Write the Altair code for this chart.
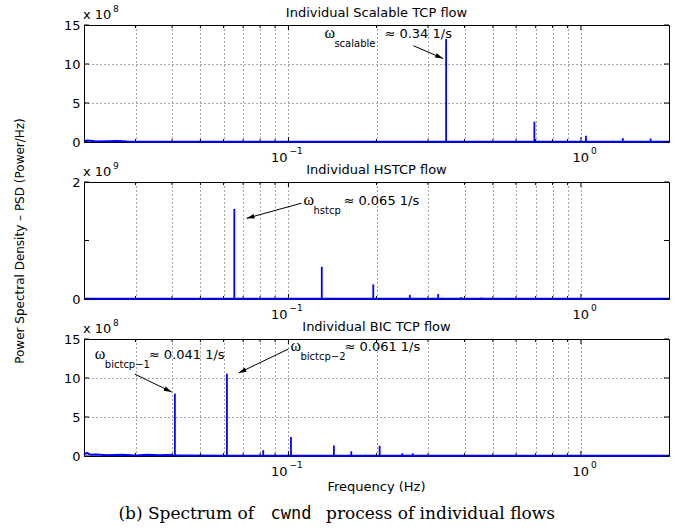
import math
import altair as alt
import pandas as pd

# ---------------- data ----------------
# Panel 1: Individual Scalable TCP flow  (PSD in units of 1e8)
scal_peak_f = [0.346, 0.693, 1.04, 1.39, 1.73]
scal_peak_v = [13.2, 2.6, 0.8, 0.5, 0.45]
scal_base_f = [0.02, 0.0205, 0.021, 0.022, 0.024, 0.026, 0.028, 0.03, 0.05, 0.1, 0.5, 1.0, 2.0]
scal_base_v = [0.1, 0.2, 0.15, 0.05, 0.1, 0.12, 0.05, 0.03, 0.02, 0.02, 0.02, 0.02, 0.02]

# Panel 2: Individual HSTCP flow  (PSD in units of 1e9)
hs_peak_f = [0.0653, 0.130, 0.195, 0.26, 0.325, 0.389, 0.456, 0.52, 0.585, 0.65, 0.78, 0.85]
hs_peak_v = [1.54, 0.55, 0.25, 0.07, 0.085, 0.03, 0.025, 0.02, 0.012, 0.012, 0.01, 0.01]
hs_base_f = [0.02, 0.05, 0.1, 0.5, 2.0]
hs_base_v = [0.005, 0.005, 0.005, 0.005, 0.005]

# Panel 3: Individual BIC TCP flow  (PSD in units of 1e8)
bic_peak_f = [0.0409, 0.0616, 0.082, 0.102, 0.143, 0.164, 0.184, 0.205, 0.245,
              0.266, 0.306, 0.348, 0.41, 0.466, 0.51, 0.61, 0.71]
bic_peak_v = [8.0, 10.55, 0.75, 2.45, 1.35, 0.6, 0.15, 1.3, 0.35,
              0.35, 0.15, 0.12, 0.15, 0.1, 0.1, 0.1, 0.08]
bic_base_f = [0.02, 0.0205, 0.021, 0.022, 0.024, 0.027, 0.03, 0.033, 0.036, 0.039,
              0.04, 0.045, 0.06, 0.1, 0.5, 2.0]
bic_base_v = [0.2, 0.4, 0.15, 0.2, 0.1, 0.15, 0.08, 0.15, 0.1, 0.12,
              0.1, 0.05, 0.03, 0.03, 0.02, 0.02]

titles = ["Individual Scalable TCP flow", "Individual HSTCP flow", "Individual BIC TCP flow"]
y_max = [15, 2, 15]
y_ticks = [[0, 5, 10, 15], [0, 1, 2], [0, 5, 10, 15]]
exponents = ["8", "9", "8"]
x_grid = [0.03, 0.04, 0.05, 0.06, 0.07, 0.08, 0.09,
          0.1, 0.2, 0.3, 0.4, 0.5, 0.6, 0.7, 0.8, 0.9, 1.0]
x_major = [0.1, 1.0]
x_major_exp = ["\u22121", "0"]

# annotations: anchor (freq, value), subscript, remaining text
ann_f = [[0.1327], [0.1125], [0.02178, 0.1016]]
ann_v = [[13.36], [1.603], [12.44, 13.46]]
ann_sub = [["scalable"], ["hstcp"], ["bictcp\u22121", "bictcp\u22122"]]
ann_rest = [["\u2248 0.34 1/s"], ["\u2248 0.065 1/s"], ["\u2248 0.041 1/s", "\u2248 0.061 1/s"]]
ann_rest_dx = [[60], [40], [54, 54]]

# arrows: tail (freq, value) -> head (freq, value)
arr_tail_f = [[0.267], [0.1108], [0.0298, 0.100]]
arr_tail_v = [[12.35], [1.638], [10.51, 13.72]]
arr_head_f = [[0.338], [0.0719], [0.0399, 0.0675]]
arr_head_v = [[10.7], [1.379], [8.2, 10.64]]

# ---------------- layout / style ----------------
W, H = 585, 117
FMIN, FMAX = 0.02, 2.0
SANS = "DejaVu Sans"
BLUE = "#0000ff"
ARROW = "M0,0L-0.3,1L0.3,1Z"

xscale = alt.Scale(type="log", domain=[FMIN, FMAX], nice=False)


def px_x(f):
    return W * (math.log10(f) - math.log10(FMIN)) / (math.log10(FMAX) - math.log10(FMIN))


def px_y(v, ymax):
    return H * (1 - v / ymax)


def one(text):
    return pd.DataFrame({"t": [text]})


def panel(i, peak_f, peak_v, base_f, base_v, bottom=False):
    ymax = y_max[i]
    yscale = alt.Scale(domain=[0, ymax], nice=False, zero=True)
    xaxis = alt.Axis(values=x_grid, labels=False, ticks=False, domain=False,
                     grid=True, gridDash=[1, 3], gridColor="#000", gridOpacity=0.7,
                     title=None)
    ykw = dict(values=y_ticks[i], ticks=False, tickSize=0, domain=False, grid=True,
               gridDash=[1, 3], gridColor="#000", gridOpacity=0.7, labelPadding=4,
               format="d")
    if i == 1:
        yaxis = alt.Axis(title="Power Spectral Density \u2013 PSD (Power/Hz)",
                         titlePadding=45, **ykw)
    else:
        yaxis = alt.Axis(title=None, **ykw)

    def X(field):
        return alt.X(field, type="quantitative", scale=xscale, axis=xaxis)

    def Y(field):
        return alt.Y(field, type="quantitative", scale=yscale, axis=yaxis)

    layers = []
    base = pd.DataFrame({"f": base_f, "v": base_v})
    layers.append(alt.Chart(base).mark_line(color=BLUE, strokeWidth=2).encode(x=X("f"), y=Y("v")))

    peaks = pd.DataFrame({"f": peak_f, "v": peak_v})
    layers.append(alt.Chart(peaks).mark_rule(color=BLUE, strokeWidth=1.8).encode(
        x=X("f"), y=Y("v"), y2=alt.Y2Datum(0)))

    # inward ticks (MATLAB style)
    minors = pd.DataFrame({"f": [g for g in x_grid if g not in x_major]})
    majors = pd.DataFrame({"f": x_major})
    for df, ln in ((minors, 3), (majors, 5)):
        layers.append(alt.Chart(df).mark_rule(color="black", strokeWidth=1).encode(
            x=X("f"), y=alt.value(H), y2=alt.value(H - ln)))
        layers.append(alt.Chart(df).mark_rule(color="black", strokeWidth=1).encode(
            x=X("f"), y=alt.value(0), y2=alt.value(ln)))
    yt = pd.DataFrame({"v": y_ticks[i]})
    layers.append(alt.Chart(yt).mark_rule(color="black").encode(
        y=Y("v"), x=alt.value(0), x2=alt.value(5)))
    layers.append(alt.Chart(yt).mark_rule(color="black").encode(
        y=Y("v"), x=alt.value(W - 5), x2=alt.value(W)))

    # panel title
    layers.append(alt.Chart(one(titles[i])).mark_text(
        align="center", baseline="alphabetic", font=SANS, fontSize=13, color="black").encode(
        text="t:N", x=alt.value(W / 2), y=alt.value(-8)))

    # "x 10^n" multiplier
    layers.append(alt.Chart(one("x 10")).mark_text(
        align="left", baseline="alphabetic", font=SANS, fontSize=13, color="black").encode(
        text="t:N", x=alt.value(-1), y=alt.value(-6)))
    layers.append(alt.Chart(one(exponents[i])).mark_text(
        align="left", baseline="alphabetic", font=SANS, fontSize=9, color="black").encode(
        text="t:N", x=alt.value(29), y=alt.value(-13)))

    # x tick labels 10^-1, 10^0
    for f, e, dx10, dxe in ((x_major[0], x_major_exp[0], -1, 1), (x_major[1], x_major_exp[1], 8, 10)):
        d = pd.DataFrame({"f": [f], "t": ["10"], "e": [e]})
        layers.append(alt.Chart(d).mark_text(
            align="right", baseline="alphabetic", font=SANS, fontSize=13, color="black", dx=dx10).encode(
            x=X("f"), y=alt.value(H + 20), text="t:N"))
        layers.append(alt.Chart(d).mark_text(
            align="left", baseline="alphabetic", font=SANS, fontSize=9, color="black", dx=dxe).encode(
            x=X("f"), y=alt.value(H + 12), text="e:N"))

    # annotations
    for k in range(len(ann_f[i])):
        d = pd.DataFrame({"f": [ann_f[i][k]], "v": [ann_v[i][k]], "w": ["\u03c9"],
                          "s": [ann_sub[i][k]], "r": [ann_rest[i][k]]})
        layers.append(alt.Chart(d).mark_text(
            align="left", baseline="alphabetic", font="Liberation Serif", fontSize=16,
            color="black").encode(x=X("f"), y=Y("v"), text="w:N"))
        layers.append(alt.Chart(d).mark_text(
            align="left", baseline="alphabetic", font=SANS, fontSize=10, color="black",
            dx=10, dy=9).encode(x=X("f"), y=Y("v"), text="s:N"))
        layers.append(alt.Chart(d).mark_text(
            align="left", baseline="alphabetic", font=SANS, fontSize=13, color="black",
            dx=ann_rest_dx[i][k]).encode(x=X("f"), y=Y("v"), text="r:N"))

    # arrows
    rows = []
    for k in range(len(arr_tail_f[i])):
        ft, vt = arr_tail_f[i][k], arr_tail_v[i][k]
        fh, vh = arr_head_f[i][k], arr_head_v[i][k]
        dx = px_x(fh) - px_x(ft)
        dy = px_y(vh, ymax) - px_y(vt, ymax)
        ang = math.degrees(math.atan2(dx, -dy)) % 360
        rows.append({"f": ft, "v": vt, "f2": fh, "v2": vh, "ang": ang})
    adf = pd.DataFrame(rows)
    layers.append(alt.Chart(adf).mark_rule(color="black", strokeWidth=1).encode(
        x=X("f"), x2="f2:Q", y=Y("v"), y2="v2:Q"))
    layers.append(alt.Chart(adf).mark_point(
        shape=ARROW, filled=True, color="black", size=256, opacity=1, strokeWidth=0).encode(
        x=X("f2"), y=Y("v2"), angle=alt.Angle("ang:Q", scale=None)))

    if bottom:
        layers.append(alt.Chart(one("Frequency (Hz)")).mark_text(
            align="center", baseline="alphabetic", font=SANS, fontSize=13, color="black").encode(
            text="t:N", x=alt.value(W / 2), y=alt.value(H + 35)))
        layers.append(alt.Chart(one("(b) Spectrum of")).mark_text(
            align="right", baseline="alphabetic", font="DejaVu Serif", fontSize=17, color="black").encode(
            text="t:N", x=alt.value(170), y=alt.value(H + 63)))
        layers.append(alt.Chart(one("cwnd")).mark_text(
            align="center", baseline="alphabetic", font="DejaVu Sans Mono", fontSize=17, color="black").encode(
            text="t:N", x=alt.value(207), y=alt.value(H + 63)))
        layers.append(alt.Chart(one("process of individual flows")).mark_text(
            align="left", baseline="alphabetic", font="DejaVu Serif", fontSize=17, color="black").encode(
            text="t:N", x=alt.value(242), y=alt.value(H + 63)))

    return alt.layer(*layers).properties(width=W, height=H)


p1 = panel(0, scal_peak_f, scal_peak_v, scal_base_f, scal_base_v)
p2 = panel(1, hs_peak_f, hs_peak_v, hs_base_f, hs_base_v)
p3 = panel(2, bic_peak_f, bic_peak_v, bic_base_f, bic_base_v, bottom=True)

chart = alt.vconcat(p1, p2, p3, spacing=40, bounds="flush").properties(
    padding={"left": 13, "top": 4, "right": 5, "bottom": 3}
).configure_view(stroke="black", strokeWidth=1).configure_axis(
    labelFont=SANS, labelFontSize=13, labelColor="black",
    titleFont=SANS, titleFontSize=12, titleColor="black", titleFontWeight="normal"
)

chart.save("out.html", embed_options={"renderer": "svg", "actions": False})
